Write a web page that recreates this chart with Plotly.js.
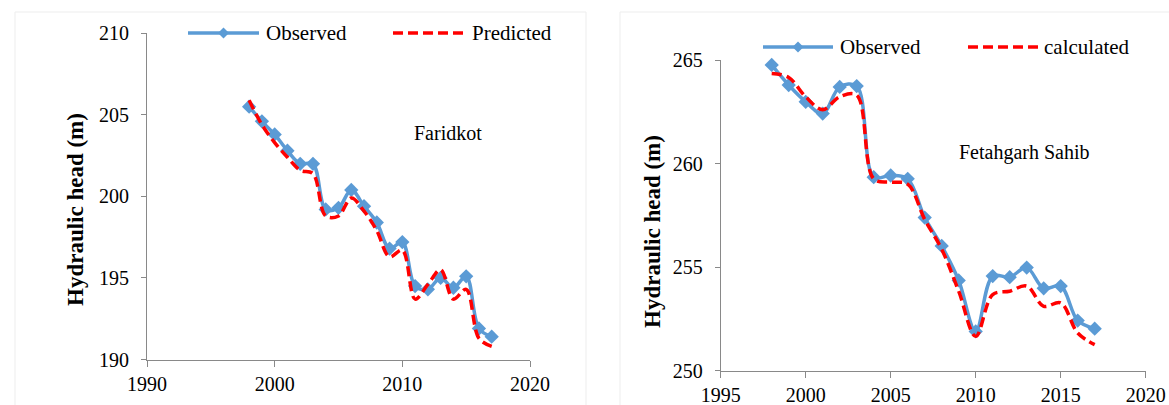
<!DOCTYPE html>
<html>
<head>
<meta charset="utf-8">
<script src="https://cdn.plot.ly/plotly-3.0.1.min.js"></script>
<style>html,body{margin:0;padding:0;background:#fff;}#chart{width:1169px;height:405px;}</style>
</head>
<body>
<div id="chart"></div>
<script>
// ---- Data ----
const yearsFaridkot = [1998,1999,2000,2001,2002,2003,2004,2005,2006,2007,2008,2009,2010,2011,2012,2013,2014,2015,2016,2017];
const faridkotObserved = [205.5,204.6,203.8,202.8,202.0,202.0,199.2,199.3,200.4,199.4,198.4,196.8,197.2,194.5,194.3,195.0,194.4,195.1,191.9,191.4];
const faridkotPredicted = [205.9,204.4,203.3,202.4,201.6,201.4,198.8,198.8,199.9,199.1,197.9,196.3,196.7,193.7,194.6,195.5,193.7,194.3,191.3,190.8];

const yearsFatehgarh = [1998,1999,2000,2001,2002,2003,2004,2005,2006,2007,2008,2009,2010,2011,2012,2013,2014,2015,2016,2017];
const fatehgarhObserved = [264.76,263.79,262.98,262.41,263.70,263.74,259.34,259.42,259.26,257.39,256.02,254.35,251.89,254.56,254.51,254.97,253.97,254.08,252.41,252.02];
const fatehgarhCalculated = [264.35,264.16,263.22,262.60,263.22,263.30,259.26,259.10,259.00,257.30,255.86,253.83,251.65,253.67,253.83,254.08,253.10,253.27,251.81,251.25];

const leftTitle = "Faridkot";
const rightTitle = "Fetahgarh Sahib";
const yTitle = "Hydraulic head (m)";
const leftNames = ["Observed","Predicted"];
const rightNames = ["Observed","calculated"];

// ---- Styling ----
const W = 1169, H = 405;
const BLUE = "#5B9BD5", RED = "#FF0000", AXC = "#898989";
const FONT = "Liberation Serif, Times New Roman, serif";
const px = x => x / W;
const py = y => 1 - y / H;

const obsStyle = {mode:"lines+markers", line:{color:BLUE, width:3.5, shape:"spline", smoothing:1}, marker:{symbol:"diamond", size:11, color:BLUE}, cliponaxis:false};
const predStyle = {mode:"lines", line:{color:RED, width:3.5, dash:"10px,5px", shape:"spline", smoothing:1}, cliponaxis:false};

const traces = [
  Object.assign({x:yearsFaridkot, y:faridkotObserved, name:leftNames[0], xaxis:"x", yaxis:"y"}, obsStyle),
  Object.assign({x:yearsFaridkot, y:faridkotPredicted, name:leftNames[1], xaxis:"x", yaxis:"y"}, predStyle),
  Object.assign({x:yearsFatehgarh, y:fatehgarhObserved, name:rightNames[0], xaxis:"x2", yaxis:"y2"}, obsStyle),
  Object.assign({x:yearsFatehgarh, y:fatehgarhCalculated, name:rightNames[1], xaxis:"x2", yaxis:"y2"}, predStyle)
];

const axBase = {showline:true, linecolor:AXC, linewidth:1, ticks:"outside", tickcolor:AXC, tickwidth:1,
  showgrid:false, zeroline:false, tickfont:{family:FONT, size:20, color:"#000"}, fixedrange:true};

function diamond(cx, cy, r){
  return `M${px(cx-r)},${py(cy)} L${px(cx)},${py(cy-r)} L${px(cx+r)},${py(cy)} L${px(cx)},${py(cy+r)} Z`;
}
function legendShapes(x0, x1, y, x2, x3){
  return [
    {type:"line", xref:"paper", yref:"paper", x0:px(x0), x1:px(x1), y0:py(y), y1:py(y), line:{color:BLUE, width:3.5}},
    {type:"path", xref:"paper", yref:"paper", path:diamond((x0+x1)/2, y, 5.5), fillcolor:BLUE, line:{color:BLUE, width:0}},
    {type:"line", xref:"paper", yref:"paper", x0:px(x2), x1:px(x3), y0:py(y), y1:py(y), line:{color:RED, width:3.5, dash:"10px,5px"}}
  ];
}
function txt(text, x, y, size, extra){
  return Object.assign({text:text, xref:"paper", yref:"paper", x:px(x), y:py(y), xanchor:"left", yanchor:"middle",
    showarrow:false, font:{family:FONT, size:size, color:"#000"}}, extra||{});
}

const layout = {
  width:W, height:H, margin:{l:0, r:0, t:0, b:0}, paper_bgcolor:"#fff", plot_bgcolor:"rgba(0,0,0,0)",
  showlegend:false,
  xaxis:Object.assign({}, axBase, {domain:[px(147), px(530)], range:[1990,2020], tick0:1990, dtick:10, ticklen:6, anchor:"y"}),
  yaxis:Object.assign({}, axBase, {domain:[py(359.5), py(33.3)], range:[190,210], tick0:190, dtick:5, ticklen:5, ticklabelstandoff:8, anchor:"x"}),
  xaxis2:Object.assign({}, axBase, {domain:[px(720.7), px(1145.7)], range:[1995,2020], tick0:1995, dtick:5, ticklen:6, anchor:"y2"}),
  yaxis2:Object.assign({}, axBase, {domain:[py(370.5), py(60)], range:[250,265], tick0:250, dtick:5, ticklen:5, ticklabelstandoff:8, anchor:"x2"}),
  shapes:[
    {type:"rect", xref:"paper", yref:"paper", x0:px(15), x1:px(586), y0:py(420), y1:py(12), line:{color:"#ededed", width:1}},
    {type:"rect", xref:"paper", yref:"paper", x0:px(620), x1:px(1180), y0:py(420), y1:py(12), line:{color:"#ededed", width:1}}
  ].concat(legendShapes(188, 259, 33, 393, 465)).concat(legendShapes(763, 833, 47, 968, 1038)),
  annotations:[
    txt(leftNames[0], 264, 33, 21),
    txt(leftNames[1], 470, 33, 21),
    txt(rightNames[0], 838, 47, 21),
    txt(rightNames[1], 1042, 47, 21),
    txt(leftTitle, 412, 133, 20),
    txt(rightTitle, 957, 152, 20),
    txt("<b>"+yTitle+"</b>", 75, 210, 23, {xanchor:"center", textangle:-90}),
    txt("<b>"+yTitle+"</b>", 652, 232, 23, {xanchor:"center", textangle:-90})
  ]
};

Plotly.newPlot("chart", traces, layout, {displayModeBar:false, staticPlot:true});
</script>
</body>
</html>
